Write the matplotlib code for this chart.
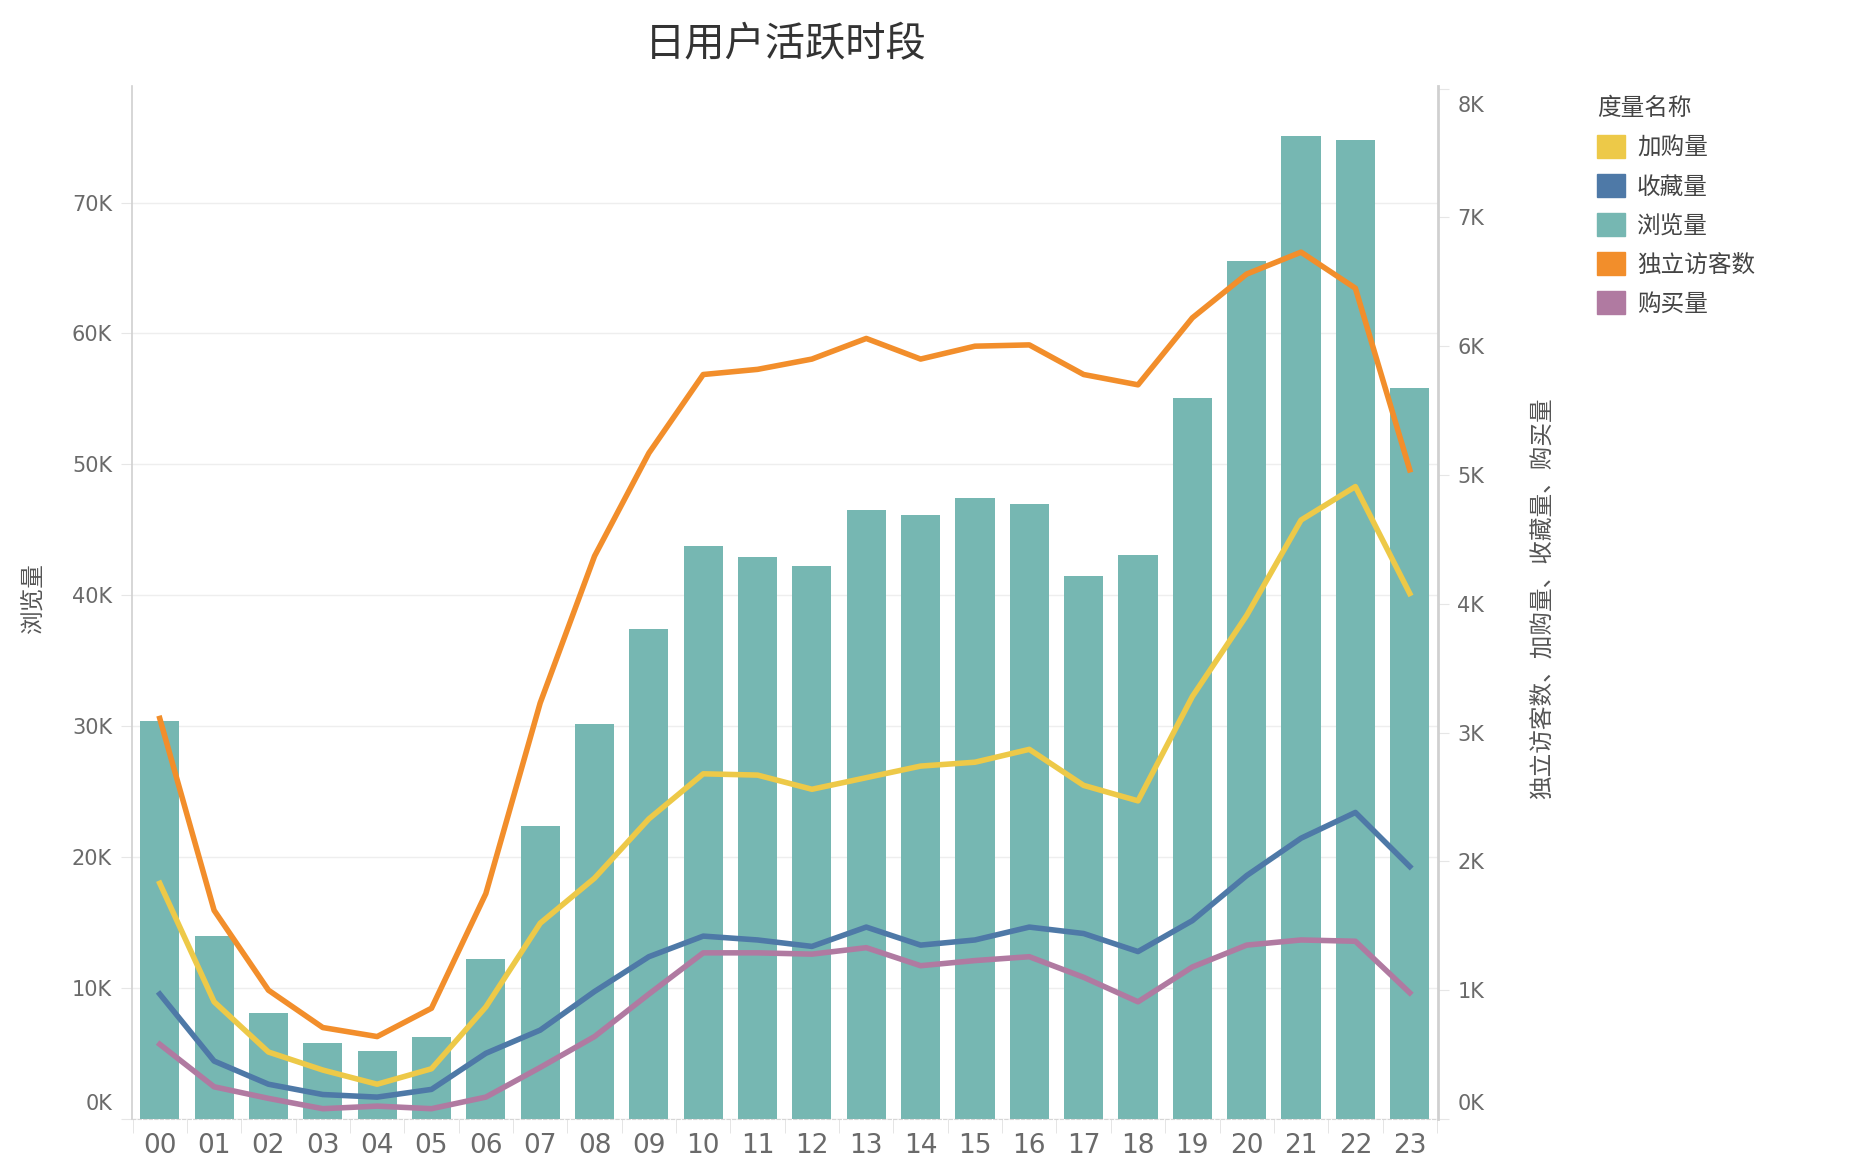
import matplotlib
matplotlib.use("Agg")
import matplotlib.pyplot as plt
from matplotlib.patches import Patch
from matplotlib import font_manager as fm
from matplotlib.transforms import ScaledTranslation
import numpy as np

plt.rcParams['font.family'] = ['Noto Sans CJK SC', 'DejaVu Sans']

hours = ["00", "01", "02", "03", "04", "05", "06", "07", "08", "09", "10", "11",
         "12", "13", "14", "15", "16", "17", "18", "19", "20", "21", "22", "23"]

# 浏览量 (left axis)
pv = [30400, 14000, 8100, 5800, 5200, 6300, 12200, 22400, 30200, 37400, 43800, 42900,
      42200, 46500, 46100, 47400, 47000, 41500, 43100, 55100, 65500, 75100, 74800, 55800]
# 独立访客数 (right axis)
uv = [3110, 1620, 1000, 710, 640, 860, 1750, 3230, 4370, 5170, 5780, 5820,
      5900, 6060, 5900, 6000, 6010, 5780, 5700, 6220, 6560, 6730, 6450, 5040]
# 加购量
cart = [1830, 910, 520, 380, 270, 390, 870, 1520, 1870, 2330, 2680, 2670,
        2560, 2650, 2740, 2770, 2870, 2590, 2470, 3280, 3910, 4650, 4910, 4080]
# 收藏量
fav = [970, 450, 270, 190, 170, 230, 510, 690, 990, 1260, 1420, 1390,
       1340, 1490, 1350, 1390, 1490, 1440, 1300, 1540, 1890, 2180, 2380, 1960]
# 购买量
buy = [580, 250, 160, 80, 100, 80, 170, 400, 640, 970, 1290, 1290,
       1280, 1330, 1190, 1230, 1260, 1100, 910, 1180, 1350, 1390, 1380, 980]

left_ticks = [0, 10000, 20000, 30000, 40000, 50000, 60000, 70000]
left_labels = ["0K", "10K", "20K", "30K", "40K", "50K", "60K", "70K"]
right_ticks = [0, 1000, 2000, 3000, 4000, 5000, 6000, 7000, 8000]
right_labels = ["0K", "1K", "2K", "3K", "4K", "5K", "6K", "7K", "8K"]

C_TEAL = "#76B7B2"
C_ORANGE = "#F28E2B"
C_YELLOW = "#EDC948"
C_BLUE = "#4E79A7"
C_PURPLE = "#B07AA1"
TICK_C = "#6a6a6a"

names = {f.name for f in fm.fontManager.ttflist}
narrow = 'Liberation Sans Narrow' if 'Liberation Sans Narrow' in names else 'DejaVu Sans'

W, H = 1874, 1162
fig = plt.figure(figsize=(W / 100, H / 100), dpi=100)
ax = fig.add_axes([131.5 / W, 1 - 1119 / H, (1438 - 131.5) / W, (1119 - 86) / H])
ax2 = ax.twinx()

x = np.arange(len(hours))
ax.bar(x, pv, width=0.72, color=C_TEAL, zorder=2)
ax.set_xlim(-0.52, 23.52)
ax.set_ylim(0, 78900)
ax.set_yticks(left_ticks)
ax.set_yticklabels(left_labels, fontsize=15, color=TICK_C, family='DejaVu Sans')
ax.grid(axis='y', color='#eeeeee', lw=1, zorder=0)
ax.set_axisbelow(True)
ax.tick_params(axis='y', length=8, color='#e6e6e6', pad=6)
ax.set_xticks(x)
ax.set_xticklabels(hours, fontsize=19, color=TICK_C, family=narrow)
ax.tick_params(axis='x', length=0, pad=10)
ax.set_xticks(np.arange(-0.5, 24, 1), minor=True)
ax.tick_params(axis='x', which='minor', length=10, color='#e0e0e0')

for s in ['top', 'right']:
    ax.spines[s].set_visible(False)
ax.spines['left'].set_color('#d0d0d0')
ax.spines['left'].set_linewidth(1.2)
ax.spines['bottom'].set_color('#d6d6d6')
ax.spines['bottom'].set_linestyle((0, (3, 2)))

lw = 4.0
ax2.plot(x, uv, color=C_ORANGE, lw=lw, zorder=3)
ax2.plot(x, cart, color=C_YELLOW, lw=lw, zorder=3)
ax2.plot(x, fav, color=C_BLUE, lw=lw, zorder=3)
ax2.plot(x, buy, color=C_PURPLE, lw=lw, zorder=3)
ax2.set_ylim(0, 8020)
ax2.set_yticks(right_ticks)
ax2.set_yticklabels(right_labels, fontsize=15, color=TICK_C, family='DejaVu Sans')
ax2.tick_params(axis='y', length=8, color='#e6e6e6', pad=6)
for s in ['top', 'left', 'bottom']:
    ax2.spines[s].set_visible(False)
ax2.spines['right'].set_color('#d0d0d0')
ax2.spines['right'].set_linewidth(2)

# shift end labels inward like the original (kept within the plot bounds)
up = ScaledTranslation(0, 12 / 72, fig.dpi_scale_trans)
down = ScaledTranslation(0, -11 / 72, fig.dpi_scale_trans)
for lab in [ax.get_yticklabels()[0], ax2.get_yticklabels()[0]]:
    lab.set_transform(lab.get_transform() + up)
lab8 = ax2.get_yticklabels()[-1]
lab8.set_transform(lab8.get_transform() + down)

fig.text(786 / W, 1 - 45 / H, "日用户活跃时段", ha='center', va='center', fontsize=29, color='#333333')
fig.text(33 / W, 1 - 598 / H, "浏览量", rotation=90, ha='center', va='center', fontsize=17, color='#555555')
fig.text(1542 / W, 1 - 598 / H, "独立访客数、加购量、收藏量、购买量", rotation=90, ha='center', va='center',
         fontsize=17, color='#555555')

handles = [Patch(color=C_YELLOW), Patch(color=C_BLUE), Patch(color=C_TEAL),
           Patch(color=C_ORANGE), Patch(color=C_PURPLE)]
labels = ["加购量", "收藏量", "浏览量", "独立访客数", "购买量"]
leg = fig.legend(handles, labels, title="度量名称", loc='upper left',
                 bbox_to_anchor=(1588 / W, 1 - 88 / H), frameon=False,
                 fontsize=17, title_fontsize=17, handlelength=1.17, handleheight=1.17,
                 labelspacing=0.6, handletextpad=0.5, borderaxespad=0)
leg._legend_box.align = "left"
for t in leg.get_texts():
    t.set_color('#444444')
leg.get_title().set_color('#444444')

fig.savefig("out.png", dpi=100)
